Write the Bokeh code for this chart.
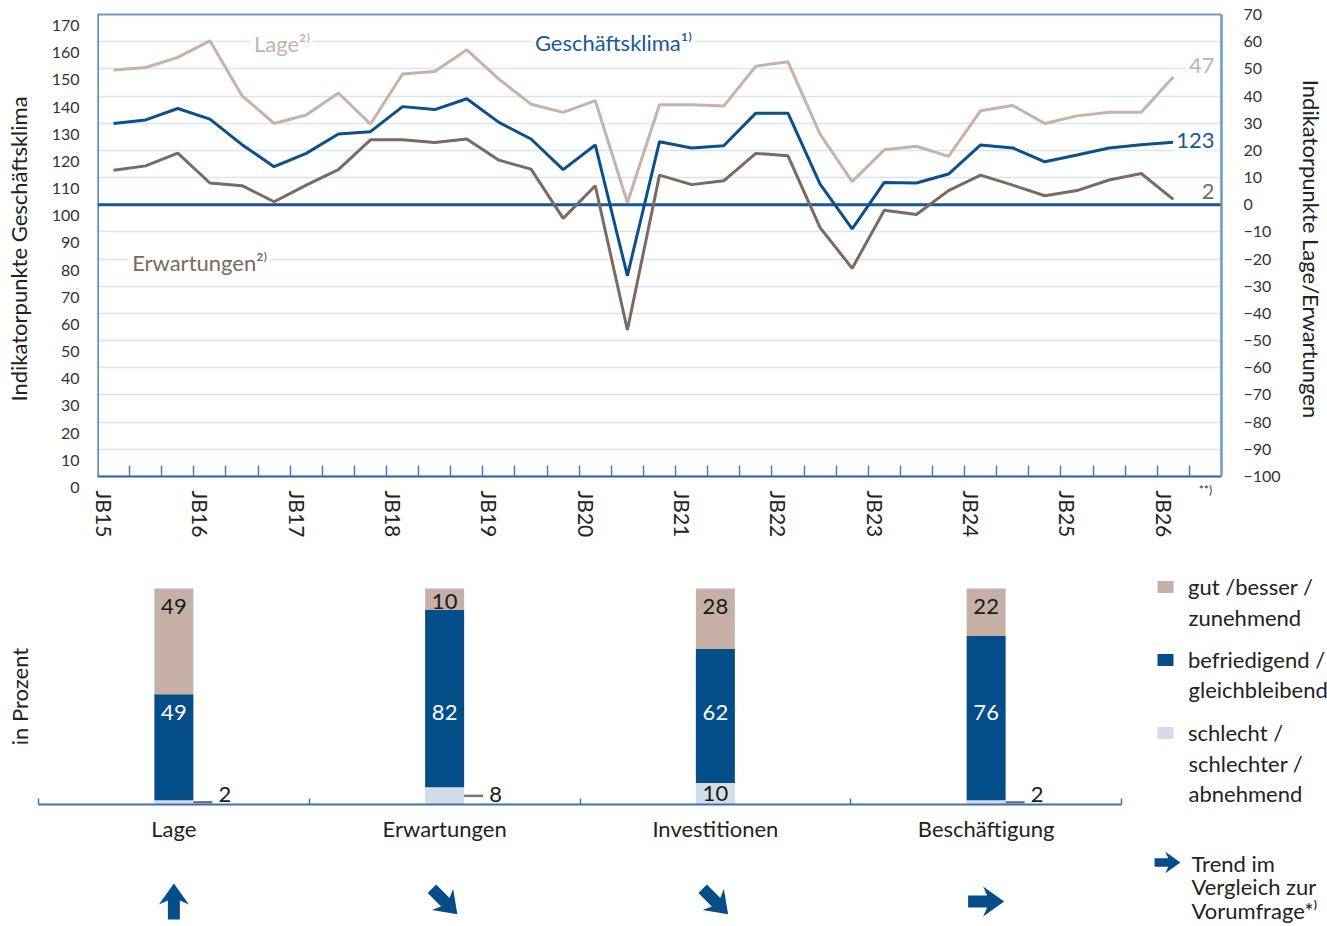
import numpy as np
from bokeh.plotting import figure
from bokeh.models import (Range1d, LinearAxis, FixedTicker, Span, Label, Grid,
                          ColumnDataSource, Legend, LegendItem)
from bokeh.embed import file_html
from bokeh.resources import INLINE
from bokeh.core.properties import value

FONT = "Lato"
FS = "22px"

# ---------------- data: top chart ----------------
lage = [49.6, 50.5, 54.2, 60.3, 40.1, 29.9, 33.0, 41.1, 29.7, 48.1, 49.0, 57.0,
        46.2, 37.0, 34.0, 38.3, 0.8, 36.8, 36.8, 36.3, 51.0, 52.6, 26.0, 8.5,
        20.2, 21.5, 17.8, 34.6, 36.5, 29.9, 32.7, 34.0, 34.0, 47]
erwartungen = [12.7, 14.3, 19.0, 8.0, 7.0, 1.1, 7.2, 12.9, 23.9, 23.9, 22.9, 24.2,
               16.4, 13.1, -5.0, 7.0, -46.1, 10.9, 7.4, 8.8, 18.9, 18.0, -8.4, -23.4,
               -2.0, -3.6, 5.2, 10.9, 7.2, 3.3, 5.2, 9.1, 11.5, 2]
klima = [129.9, 131.2, 135.4, 131.5, 122.1, 114.0, 118.9, 126.0, 126.9, 136.1, 135.0,
         139.0, 130.3, 124.2, 112.9, 122.0, 73.9, 123.2, 120.9, 121.7, 133.7, 133.7,
         107.6, 91.1, 108.2, 108.0, 111.3, 122.0, 120.9, 115.8, 118.3, 120.9, 122.1, 123]
year_labels = ["JB15", "JB16", "JB17", "JB18", "JB19", "JB20", "JB21", "JB22",
               "JB23", "JB24", "JB25", "JB26"]
surveys_per_year = 3
next_survey_label = "**)"
left_ticks = list(range(0, 171, 10))
right_ticks = list(range(-100, 71, 10))

# ---------------- data: bottom chart ----------------
categories = ["Lage", "Erwartungen", "Investitionen", "Beschäftigung"]
gut = [49, 10, 28, 22]
befriedigend = [49, 82, 62, 76]
schlecht = [2, 8, 10, 2]
trend = ["up", "down-right", "down-right", "right"]
legend_first = ["gut /besser /", "befriedigend /", "schlecht /"]
legend_more = [["zunehmend"], ["gleichbleibend"], ["schlechter /", "abnehmend"]]
trend_text = "Trend im\nVergleich zur\nVorumfrage*⁾"

# ---------------- colours ----------------
C_LAGE = "#c8b2a8"
C_ERW = "#7a6a62"
C_KLIMA = "#0b4f8c"
C_BAR_GUT = "#c6b0a6"
C_BAR_BEF = "#034d89"
C_BAR_SCH = "#d3dde9"
C_GRID = "#dbe3ed"
C_FRAME = "#7097c2"
C_TXT = "#222222"

W = 1327

# =============== TOP FIGURE ===============
n = len(klima)
xs = list(range(n))
F1_L, F1_R = 97, 1230
TOP_PY = 14            # page y of value 170
AX_PY = 476            # page y of the x axis (value 0 of the Klima scale)
F1_B = 497             # frame bottom
H1 = 555
K = (AX_PY - TOP_PY) / 170.0          # px per indicator point

def p1y(py):
    return (AX_PY - py) / K

def p1x(px):
    return (px - F1_L) / ((F1_R - F1_L) / (n + 1)) - 0.5

LAB_OFF = 11 / K                     # left tick labels sit ~11px below their lines
p1 = figure(width=W, height=H1, output_backend="svg", toolbar_location=None,
            x_range=Range1d(-0.5, n + 0.5), y_range=Range1d(p1y(F1_B), p1y(0)),
            min_border_left=F1_L, min_border_right=W - F1_R, min_border_top=0,
            min_border_bottom=H1 - F1_B, x_axis_type=None, y_axis_type=None,
            outline_line_color=None,
            background_fill_color="white", border_fill_color="white")
p1.extra_y_ranges = {"le": Range1d(p1y(F1_B) - 100, p1y(0) - 100),
                     "lab": Range1d(p1y(F1_B) + LAB_OFF, p1y(0) + LAB_OFF)}

p1.add_layout(Grid(dimension=1, ticker=FixedTicker(ticks=left_ticks[1:-1]),
                   grid_line_color=C_GRID, grid_line_width=1.5))
p1.add_layout(Span(location=100, dimension="width", line_color="#1d5592",
                   line_width=3, level="underlay"))

src = ColumnDataSource(dict(x=xs, lage=lage, erw=erwartungen, klima=klima))
p1.line("x", "lage", source=src, y_range_name="le", line_color=C_LAGE, line_width=3)
p1.line("x", "erw", source=src, y_range_name="le", line_color=C_ERW, line_width=3)
p1.line("x", "klima", source=src, line_color=C_KLIMA, line_width=3)

# left axis (labels + title)
yl = LinearAxis(y_range_name="lab", ticker=FixedTicker(ticks=left_ticks),
                axis_label="Indikatorpunkte Geschäftsklima",
                axis_label_text_font=FONT, axis_label_text_font_size=FS,
                axis_label_text_font_style="normal", axis_label_text_color=C_TXT,
                axis_label_standoff=17,
                major_label_text_font=FONT, major_label_text_font_size="16px",
                major_label_text_color="#333333", major_label_standoff=18,
                axis_line_color=None, major_tick_in=0, major_tick_out=0,
                minor_tick_line_color=None)
p1.add_layout(yl, "left")
# left axis line (0..170)
p1.add_layout(LinearAxis(fixed_location=-0.5, bounds=(0, 170), ticker=FixedTicker(ticks=[]),
                         axis_line_color="#2c66a0", axis_line_width=2.5,
                         major_tick_in=0, major_tick_out=0, major_label_standoff=0,
                         minor_tick_line_color=None), "left")
# top frame line
p1.add_layout(LinearAxis(fixed_location=170, ticker=FixedTicker(ticks=[]),
                         axis_line_color=C_FRAME, axis_line_width=2,
                         major_tick_in=0, major_tick_out=0, major_label_standoff=0,
                         minor_tick_line_color=None), "above")

# right axis
yr = LinearAxis(y_range_name="le", bounds=(-100, 70), ticker=FixedTicker(ticks=right_ticks),
                axis_label="Indikatorpunkte Lage/Erwartungen",
                axis_label_text_font=FONT, axis_label_text_font_size=FS,
                axis_label_text_font_style="normal", axis_label_text_color=C_TXT,
                axis_label_standoff=14,
                major_label_text_font=FONT, major_label_text_font_size="16px",
                major_label_text_color="#333333", major_label_standoff=22,
                axis_line_color=C_FRAME, axis_line_width=2.5,
                major_tick_in=0, major_tick_out=0, minor_tick_line_color=None)
p1.add_layout(yr, "right")

# x axis line with inward ticks at value 0
minor = [k + 0.5 for k in range(n)]
p1.add_layout(LinearAxis(fixed_location=0, ticker=FixedTicker(ticks=[], minor_ticks=minor),
                         axis_line_color="#2a5f99", axis_line_width=2,
                         major_tick_in=0, major_tick_out=0, major_label_standoff=0,
                         minor_tick_in=11, minor_tick_out=0,
                         minor_tick_line_color="#4a7db2", minor_tick_line_width=1.5),
              "below")

# year labels (vertical) just below the axis
label_shift = -0.28
label_pos = [i * surveys_per_year + label_shift for i in range(len(year_labels))]
overrides = {pos: lab for pos, lab in zip(label_pos, year_labels)}
xb = LinearAxis(ticker=FixedTicker(ticks=label_pos),
                major_label_overrides=overrides, major_label_orientation="vertical",
                major_label_text_font=FONT, major_label_text_font_size="21px",
                major_label_text_color=C_TXT, major_label_standoff=-(F1_B - AX_PY - 14),
                axis_line_color=None, major_tick_in=0, major_tick_out=0,
                minor_tick_line_color=None)
p1.add_layout(xb, "below")

p1.add_layout(Label(x=n, y=p1y(496), text=next_survey_label, text_font=FONT,
                    text_font_size="12px", text_color="#333333",
                    text_align="center", text_baseline="bottom"))

def series_label(x, y, text, color, rng="default", align="center", yoff=0):
    p1.add_layout(Label(x=x, y=y, text=text, text_font=FONT, text_font_size=FS,
                        text_color=color, text_align=align, text_baseline="middle",
                        background_fill_color="white", y_range_name=rng,
                        y_offset=yoff, padding=3))

series_label(p1x(283), p1y(43), "Lage²⁾", C_LAGE)
series_label(p1x(617), p1y(42), "Geschäftsklima¹⁾", "#1a5a98")
series_label(p1x(200), p1y(262), "Erwartungen²⁾", C_ERW)
series_label(p1x(1226), lage[-1], f"{lage[-1]:.0f}", C_LAGE, rng="le", align="right", yoff=12)
series_label(p1x(1226), klima[-1], f"{klima[-1]:.0f}", "#1a5a98", align="right", yoff=2)
series_label(p1x(1226), erwartungen[-1], f"{erwartungen[-1]:.0f}", C_ERW, rng="le",
             align="right", yoff=8)

# =============== BOTTOM FIGURE ===============
H2 = 926 - H1
TOP2 = H1
band_px = 1083 / len(categories)
axis_left_px, axis_py = 38, 804
px_per_pct = 2.16

def X(px):
    return (px - axis_left_px) / band_px - 0.5

def Y(py):
    return (axis_py - py) / px_per_pct

p2 = figure(width=W, height=H2, output_backend="svg", toolbar_location=None,
            x_range=Range1d(X(0), X(W)), y_range=Range1d(Y(926), Y(TOP2)),
            min_border_left=0, min_border_right=0, min_border_top=0,
            min_border_bottom=0, x_axis_type=None, y_axis_type=None,
            outline_line_color=None, background_fill_color="white",
            border_fill_color="white")

cx = list(range(len(categories)))
bar_w = 39 / band_px
bsrc = ColumnDataSource(dict(x=cx, schlecht=schlecht, befriedigend=befriedigend, gut=gut))
rs = p2.vbar_stack(["schlecht", "befriedigend", "gut"], x="x", width=bar_w,
                   color=[C_BAR_SCH, C_BAR_BEF, C_BAR_GUT], line_width=0, source=bsrc)

gut_a = np.array(gut, dtype=float)
bef_a = np.array(befriedigend, dtype=float)
sch_a = np.array(schlecht, dtype=float)
tot = gut_a + bef_a + sch_a

top_y = tot - np.minimum(18 / px_per_pct, gut_a / 2 + 1)
p2.text(x=cx, y=top_y.tolist(), text=[str(v) for v in gut], text_font=value(FONT),
        text_font_size="22px", text_color="#1a1a1a", text_align="center",
        text_baseline="middle")
p2.text(x=cx, y=[Y(712)] * len(cx), text=[str(v) for v in befriedigend],
        text_font=value(FONT), text_font_size="22px", text_color="white",
        text_align="center", text_baseline="middle")
inside = sch_a >= 10
in_x = [c for c, ok in zip(cx, inside) if ok]
in_t = [str(v) for v, ok in zip(schlecht, inside) if ok]
in_y = [v / 2 for v, ok in zip(schlecht, inside) if ok]
p2.text(x=in_x, y=in_y, text=in_t, text_font=value(FONT), text_font_size="22px",
        text_color="#1a1a1a", text_align="center", text_baseline="middle")
out_x = [c for c, ok in zip(cx, inside) if not ok]
out_v = [v for v, ok in zip(schlecht, inside) if not ok]
p2.segment(x0=[c + bar_w / 2 for c in out_x], y0=[v / 2 for v in out_v],
           x1=[c + bar_w / 2 + 19 / band_px for c in out_x], y1=[v / 2 for v in out_v],
           line_color="#777777", line_width=2.5)
p2.text(x=[c + 44.5 / band_px for c in out_x], y=[Y(794)] * len(out_x),
        text=[str(v) for v in out_v], text_font=value(FONT), text_font_size="22px",
        text_color="#1a1a1a", text_align="left", text_baseline="middle")

xa = LinearAxis(fixed_location=0,
                ticker=FixedTicker(ticks=cx, minor_ticks=[c - 0.5 for c in cx] + [cx[-1] + 0.5]),
                bounds=(-0.5, len(cx) - 0.5),
                major_label_overrides={c: lab for c, lab in zip(cx, categories)},
                major_label_text_font=FONT, major_label_text_font_size=FS,
                major_label_text_color=C_TXT, major_label_standoff=10,
                axis_line_color="#3d73a8", axis_line_width=2,
                major_tick_in=0, major_tick_out=0, minor_tick_in=6, minor_tick_out=0,
                minor_tick_line_color="#3d73a8", minor_tick_line_width=1.5)
p2.add_layout(xa, "below")

ya = LinearAxis(fixed_location=-0.5, bounds=(0, 100), ticker=FixedTicker(ticks=[]),
                axis_label="in Prozent",
                axis_label_text_font=FONT, axis_label_text_font_size=FS,
                axis_label_text_font_style="normal", axis_label_text_color=C_TXT,
                axis_label_standoff=6, axis_line_color=None, major_tick_out=0,
                major_tick_in=0, major_label_standoff=0, minor_tick_line_color=None)
p2.add_layout(ya, "left")

# trend arrows (heavy arrow shape, rotated per trend)
ARROW = [(-18, -6), (1, -6), (-3, -15), (18, 0), (-3, 15), (1, 6), (-18, 6)]
angles = {"up": 90, "down-right": -45, "right": 0}

def arrow_poly(cx_data, cy_data, ang_deg, scale=1.0):
    a = np.deg2rad(ang_deg)
    pts = np.array(ARROW, dtype=float) * scale
    rx = pts[:, 0] * np.cos(a) - pts[:, 1] * np.sin(a)
    ry = pts[:, 0] * np.sin(a) + pts[:, 1] * np.cos(a)
    return (cx_data + rx / band_px).tolist(), (cy_data + ry / px_per_pct).tolist()

axs, ays = [], []
for c, t in zip(cx, trend):
    ax_, ay_ = arrow_poly(c, Y(901), angles[t])
    axs.append(ax_)
    ays.append(ay_)
lx, ly = arrow_poly(X(1167), Y(862), 0, scale=0.72)
axs.append(lx)
ays.append(ly)
p2.patches(xs=axs, ys=ays, fill_color=C_BAR_BEF, line_color=None)

# legend
legend = Legend(items=[LegendItem(label=lab, renderers=[r])
                       for lab, r in zip(legend_first, [rs[2], rs[1], rs[0]])],
                location=(1155, 926 - 746), glyph_width=20, glyph_height=15,
                label_standoff=13, spacing=46, padding=0, margin=0, label_height=26,
                border_line_color=None, background_fill_alpha=0,
                label_text_font=FONT, label_text_font_size=FS,
                label_text_color=C_TXT)
p2.add_layout(legend)

more_y = [[617], [689], [763, 793]]
for lines, ys in zip(legend_more, more_y):
    for txt, py in zip(lines, ys):
        p2.add_layout(Label(x=X(1188), y=Y(py), text=txt, text_font=FONT,
                            text_font_size=FS, text_color=C_TXT,
                            text_align="left", text_baseline="middle"))

p2.add_layout(Label(x=X(1191), y=Y(849), text=trend_text,
                    text_font=FONT, text_font_size=FS, text_color=C_TXT,
                    text_align="left", text_baseline="top", text_line_height=0.88))

open("out.html", "w").write(file_html([p1, p2], INLINE))
